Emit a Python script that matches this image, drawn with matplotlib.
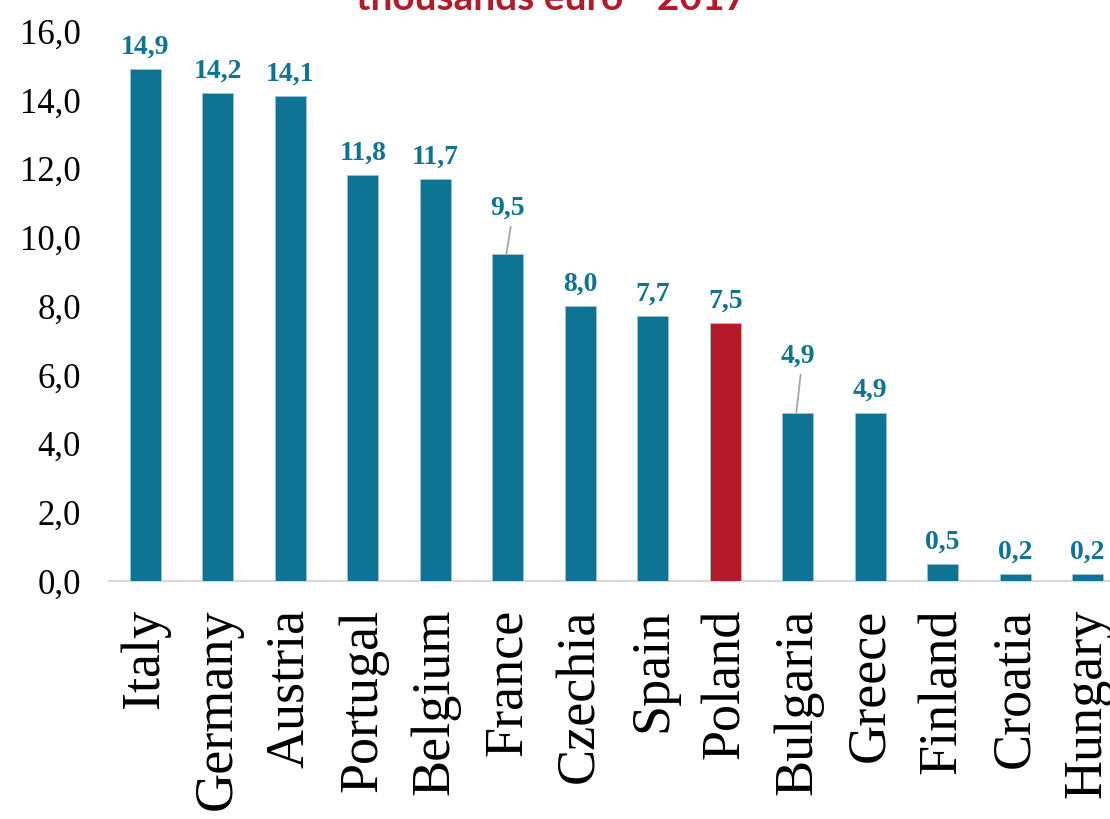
import matplotlib
matplotlib.use("Agg")
import matplotlib.pyplot as plt

countries = ["Italy", "Germany", "Austria", "Portugal", "Belgium", "France", "Czechia",
             "Spain", "Poland", "Bulgaria", "Greece", "Finland", "Croatia", "Hungary"]
values = [14.9, 14.2, 14.1, 11.8, 11.7, 9.5, 8.0, 7.7, 7.5, 4.9, 4.9, 0.5, 0.2, 0.2]
labels = ["14,9", "14,2", "14,1", "11,8", "11,7", "9,5", "8,0", "7,7", "7,5", "4,9", "4,9", "0,5", "0,2", "0,2"]
yticks = [0, 2, 4, 6, 8, 10, 12, 14, 16]
ytick_labels = ["0,0", "2,0", "4,0", "6,0", "8,0", "10,0", "12,0", "14,0", "16,0"]
title = "thousands euro - 2017"

TEAL = "#0f7393"
RED = "#b31b2a"
colors = [RED if c == "Poland" else TEAL for c in countries]

fig = plt.figure(figsize=(11.1, 8.19), dpi=100)
ax = fig.add_axes([109/1110, 1 - 581/819, 1015/1110, 550/819])

x = list(range(len(countries)))
ax.bar(x, values, width=0.43, color=colors, edgecolor="#9fc3cf", linewidth=0.6, zorder=3)
ax.set_xlim(-0.5, len(countries) - 0.5)
ax.set_ylim(0, 16)

ax.set_yticks(yticks)
ax.set_yticklabels(ytick_labels, fontfamily="Liberation Serif", fontsize=25)
ax.set_xticks(x)
ax.set_xticklabels(countries, rotation=90, fontfamily="Liberation Serif", fontsize=39,
                   ha="center", va="top")
ax.tick_params(axis="both", length=0)
ax.tick_params(axis="x", pad=20)
ax.tick_params(axis="y", pad=20)

for s in ["top", "right", "left"]:
    ax.spines[s].set_visible(False)
ax.spines["bottom"].set_color("#d9d9d9")
ax.spines["bottom"].set_linewidth(1.5)

# value labels; a few are lifted with a leader line
lift = {"France": 0.7, "Bulgaria": 1.0}
for xi, v, lab, c in zip(x, values, labels, countries):
    dy = lift.get(c, 0.0)
    ty = v + 0.28 + dy
    ax.text(xi, ty, lab, ha="center", va="bottom", fontfamily="Liberation Serif",
            fontweight="bold", fontsize=20, color=TEAL, zorder=4)
    if dy > 0:
        ax.plot([xi - 0.02, xi + 0.04], [v, v + dy + 0.1], color="#a6a6a6", lw=1.3, zorder=2)

fig.text(0.497, 1 - 10/819, title, ha="center", va="baseline", fontfamily="Lato",
         fontweight="bold", fontsize=28, color=RED)

fig.savefig("out.png", dpi=100)
